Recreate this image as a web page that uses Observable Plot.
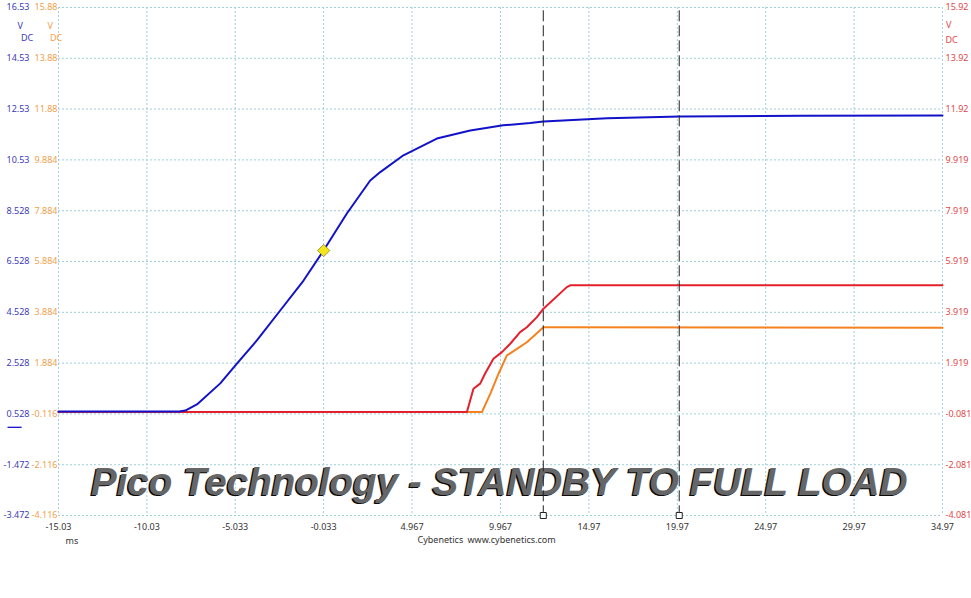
<!DOCTYPE html>
<html><head><meta charset="utf-8">
<script src="https://cdn.jsdelivr.net/npm/d3@7"></script>
<script src="https://cdn.jsdelivr.net/npm/@observablehq/plot@0.6"></script>
<style>body{margin:0;background:#fff}svg{display:block}</style>
</head><body><div id="chart"></div>
<script>
// ---- data ----
const xTicks = [-15.03, -10.03, -5.033, -0.033, 4.967, 9.967, 14.97, 19.97, 24.97, 29.97, 34.97];
const xLabels = ["-15.03", "-10.03", "-5.033", "-0.033", "4.967", "9.967", "14.97", "19.97", "24.97", "29.97", "34.97"];
const blueTicks = [16.53, 14.53, 12.53, 10.53, 8.528, 6.528, 4.528, 2.528, 0.528, -1.472, -3.472];
const blueLabels = ["16.53", "14.53", "12.53", "10.53", "8.528", "6.528", "4.528", "2.528", "0.528", "-1.472", "-3.472"];
const orangeLabels = ["15.88", "13.88", "11.88", "9.884", "7.884", "5.884", "3.884", "1.884", "-0.116", "-2.116", "-4.116"];
const redLabels = ["15.92", "13.92", "11.92", "9.919", "7.919", "5.919", "3.919", "1.919", "-0.081", "-2.081", "-4.081"];
const orangeTop = 15.88, redTop = 15.92, blueTop = 16.53;

const blueT = [-15.03, -8.2, -7.86, -7.20, -5.88, -4.94, -3.81, -2.49, -1.17, -0.04, 1.28, 2.60, 3.17, 4.48, 6.37, 8.26, 10.12, 11.65, 12.39, 16.0, 20.13, 27.0, 34.97];
const blueV = [0.62, 0.62, 0.66, 0.90, 1.73, 2.51, 3.42, 4.60, 5.78, 6.96, 8.42, 9.72, 10.05, 10.71, 11.37, 11.69, 11.89, 11.98, 12.04, 12.17, 12.24, 12.27, 12.28];

const redT = [-15.03, 8.07, 8.44, 8.82, 9.10, 9.57, 10.05, 10.52, 11.08, 11.46, 12.03, 12.40, 13.72, 13.91, 34.97];
const redV = [-0.01, -0.01, 0.91, 1.11, 1.51, 2.09, 2.35, 2.68, 3.14, 3.33, 3.73, 4.06, 4.91, 4.98, 4.98];

const orangeT = [-15.03, 8.92, 9.39, 9.86, 10.33, 10.90, 11.46, 12.40, 12.59, 34.97];
const orangeV = [-0.05, -0.05, 0.67, 1.46, 2.18, 2.44, 2.70, 3.29, 3.29, 3.27];

const cursorT = [12.39, 20.08];
const markerT = [-0.033];
const markerV = [6.96];
const zeroMark = [0];

const titleText = "Pico Technology - STANDBY TO FULL LOAD";

// ---- tables ----
const blue = blueT.map((t, i) => ({t, v: blueV[i]}));
const red = redT.map((t, i) => ({t, v: redV[i] + (blueTop - redTop)}));
const orange = orangeT.map((t, i) => ({t, v: orangeV[i] + (blueTop - orangeTop)}));

const gridStyle = {stroke: "#9fcfd9", strokeOpacity: 1, strokeDasharray: "2,2", strokeWidth: 1};
const F = "'Noto Sans', 'Open Sans', sans-serif";
const TF = "'Liberation Sans', Arial, sans-serif";

const plot = Plot.plot({
  width: 971, height: 598,
  marginLeft: 58, marginRight: 29, marginTop: 7, marginBottom: 83,
  style: {fontFamily: F, fontSize: "9px", background: "#fff", overflow: "visible"},
  x: {domain: [-15.03, 34.97], axis: null},
  y: {domain: [-3.472, 16.53], axis: null},
  marks: [
    Plot.gridX(xTicks, gridStyle),
    Plot.gridY(blueTicks, gridStyle),
    // axis labels
    Plot.text(xLabels, {x: (d, i) => xTicks[i], frameAnchor: "bottom", dy: 14.5, fill: "#333"}),
    Plot.text(blueLabels, {y: (d, i) => blueTicks[i], frameAnchor: "left", dx: -29, textAnchor: "end", fill: "#3b3bb5"}),
    Plot.text(orangeLabels, {y: (d, i) => blueTicks[i], frameAnchor: "left", dx: -1, textAnchor: "end", fill: "#f0a04c"}),
    Plot.text(redLabels, {y: (d, i) => blueTicks[i], frameAnchor: "right", dx: 3, textAnchor: "start", fill: "#e04848"}),
    Plot.text(["V"], {frameAnchor: "top-left", dx: -41, dy: 15, fill: "#3b3bb5"}),
    Plot.text(["DC"], {frameAnchor: "top-left", dx: -37.5, dy: 27.5, fill: "#3b3bb5"}),
    Plot.text(["V"], {frameAnchor: "top-left", dx: -11, dy: 15, fill: "#f0a04c"}),
    Plot.text(["DC"], {frameAnchor: "top-left", dx: -8.5, dy: 27.5, fill: "#f0a04c"}),
    Plot.text(["V"], {frameAnchor: "top-right", dx: 3.5, dy: 14.5, textAnchor: "start", fill: "#e04848"}),
    Plot.text(["DC"], {frameAnchor: "top-right", dx: 3, dy: 29, textAnchor: "start", fill: "#e04848"}),
    Plot.text(["ms"], {frameAnchor: "bottom-left", dx: 7, dy: 28, fill: "#333"}),
    Plot.text(["Cybenetics"], {frameAnchor: "bottom-left", dx: 359, dy: 27.5, textAnchor: "start", fill: "#333"}),
    Plot.text(["www.cybenetics.com"], {frameAnchor: "bottom-left", dx: 409, dy: 27.5, textAnchor: "start", fill: "#333"}),
    // channel zero marker
    Plot.ruleY(zeroMark, {x1: xTicks[0], x2: xTicks[0] + 0.8, dx: -50.5, stroke: "#1414c8", strokeWidth: 1.3}),
    // series
    Plot.line(orange, {x: "t", y: "v", stroke: "#f5821f", strokeWidth: 2}),
    Plot.line(red, {x: "t", y: "v", stroke: "#e4202c", strokeWidth: 2}),
    Plot.line(blue, {x: "t", y: "v", stroke: "#1212c8", strokeWidth: 2}),
    // title
    Plot.text([titleText], {frameAnchor: "bottom", dx: -2.8, dy: -20, lineAnchor: "bottom", fontFamily: TF,
      fontSize: 38.6, fontWeight: "bold", fontStyle: "italic", fill: "#0a0a0a", ariaLabel: "title-shadow"}),
    Plot.text([titleText], {frameAnchor: "bottom", dx: -1.3, dy: -20.3, lineAnchor: "bottom", fontFamily: TF,
      fontSize: 38.6, fontWeight: "bold", fontStyle: "italic", fill: "#666", ariaLabel: "title"}),
    // cursors
    Plot.ruleX(cursorT, {stroke: "#222", strokeWidth: 1, strokeDasharray: "11,4", y1: 16.4, y2: -3.35}),
    Plot.dot(cursorT, {x: d => d, frameAnchor: "bottom", symbol: "square", r: 3.4, fill: "#fff", stroke: "#222", strokeWidth: 1}),
    // marker
    Plot.dot(markerT, {x: d => d, y: (d, i) => markerV[i], symbol: "diamond2", r: 5.5, fill: "#f2e61a", stroke: "#8a8a20", strokeWidth: 0.8})
  ]
});

const svg = d3.select(plot);
const defs = svg.insert("defs", ":first-child");
const g = defs.append("linearGradient").attr("id", "tg").attr("x1", 0).attr("y1", 0).attr("x2", 0).attr("y2", 1);
g.append("stop").attr("offset", "0%").attr("stop-color", "#202020");
g.append("stop").attr("offset", "40%").attr("stop-color", "#8c8c8c");
g.append("stop").attr("offset", "65%").attr("stop-color", "#5a5a5a");
g.append("stop").attr("offset", "100%").attr("stop-color", "#1a1a1a");
svg.selectAll('g[aria-label="title"] text').attr("fill", "url(#tg)");
document.getElementById("chart").appendChild(plot);
</script>
</body></html>
